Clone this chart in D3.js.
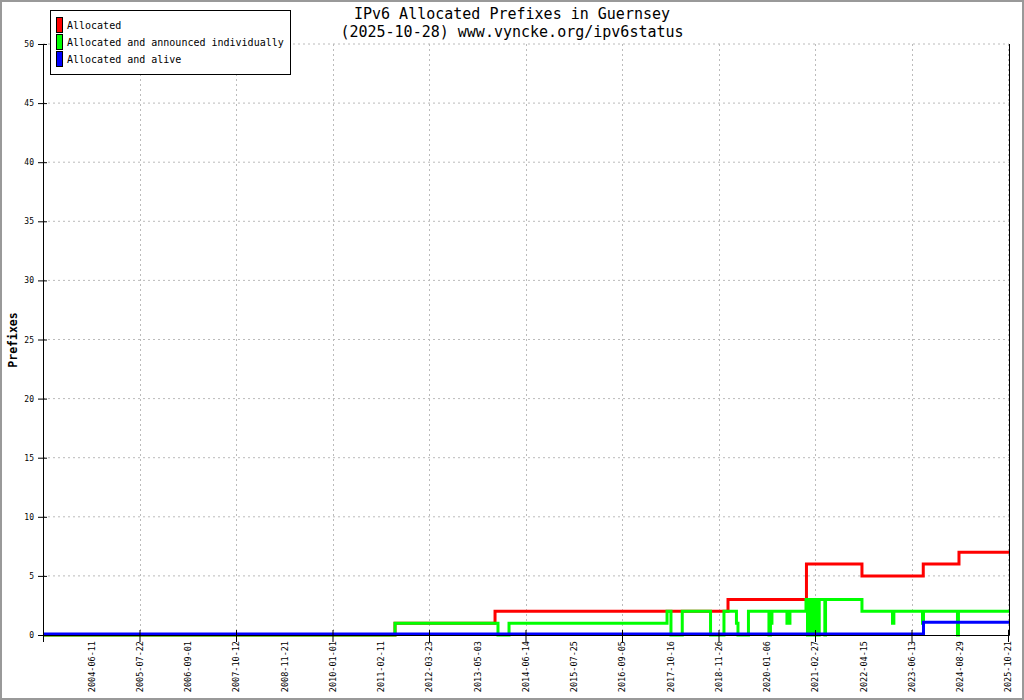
<!DOCTYPE html>
<html>
<head>
<meta charset="utf-8">
<script src="https://cdn.jsdelivr.net/npm/d3@7"></script>
<style>
body { margin: 0; background: #fff; }
text { font-family: "DejaVu Sans Mono", monospace; }
</style>
</head>
<body>
<svg id="chart" width="1024" height="700"></svg>
<script>
// chart values
var title_lines = ['IPv6 Allocated Prefixes in Guernsey', '(2025-10-28) www.vyncke.org/ipv6status'];
var y_label = 'Prefixes';
var y_ticks = [0, 5, 10, 15, 20, 25, 30, 35, 40, 45, 50];
var start_date = '2003-05-02';
var end_date = '2025-10-28';
var tick_labels = ['2004-06-11', '2005-07-22', '2006-09-01', '2007-10-12', '2008-11-21',
	'2010-01-01', '2011-02-11', '2012-03-23', '2013-05-03', '2014-06-14',
	'2015-07-25', '2016-09-05', '2017-10-16', '2018-11-26', '2020-01-06',
	'2021-02-27', '2022-04-15', '2023-06-13', '2024-08-29', '2025-10-21'];

var series_names = ['Allocated', 'Allocated and announced individually', 'Allocated and alive'];
var series_colors = ['#ff0000', '#00ff00', '#0000ff'];

// step changes: date where the count becomes the value
var allocated_dates = ['2003-05-02', '2011-06-11', '2013-09-30', '2019-02-14', '2020-12-15',
	'2022-04-04', '2023-09-29', '2024-08-22'];
var allocated_values = [0, 1, 2, 3, 6, 5, 6, 7];

var announced_dates = ['2003-05-02', '2011-06-11', '2013-10-25', '2014-01-26', '2017-09-19',
	'2017-10-22', '2018-01-25', '2018-09-20', '2019-01-11', '2019-04-26',
	'2019-05-09', '2019-08-05', '2020-01-25', '2020-02-07', '2020-02-20',
	'2020-06-29', '2020-07-25', '2020-12-11', '2020-12-24', '2021-01-03',
	'2021-01-15', '2021-01-28', '2021-02-23', '2021-03-01', '2021-03-26',
	'2021-04-04', '2021-05-22', '2021-05-28', '2022-04-04', '2022-12-28',
	'2023-01-09', '2023-09-22', '2023-10-01', '2024-08-08', '2024-08-17'];
var announced_values = [0, 1, 0, 1, 2,
	0, 2, 0, 2, 1,
	0, 2, 0, 1, 2,
	1, 2, 3, 0, 3,
	0, 3, 0, 3, 0,
	3, 0, 3, 2, 1,
	2, 1, 2, 0, 2];

var alive_dates = ['2003-05-02', '2023-10-01'];
var alive_values = [0, 1];

var parse = d3.timeParse('%Y-%m-%d');
var fmt = d3.timeFormat('%Y-%m-%d');

var margin = {left: 43, top: 44};
var width = 966, height = 591;

var svg = d3.select('#chart');

function make_series(dates, values)
{
	var pts = dates.map(function(d, i) { return {date: parse(d), value: values[i]}; });
	pts.push({date: parse(end_date), value: values[values.length - 1]});
	return pts;
}

function draw_chart()
{
	svg.append('rect')
		.attr('x', 1).attr('y', 1)
		.attr('width', 1022).attr('height', 698)
		.attr('fill', '#fff')
		.attr('stroke', '#999')
		.attr('stroke-width', 2);

	// labels are evenly spaced, so the time scale is piecewise
	var step = (width - 1) / tick_labels.length;
	var domain_dates = [parse(start_date)].concat(tick_labels.map(parse), [parse(end_date)]);
	var range_px = domain_dates.map(function(d, i) { return i * step; });
	range_px[range_px.length - 1] = width;

	var x = d3.scaleTime().domain(domain_dates).range(range_px);
	var y = d3.scaleLinear().domain([0, 50]).range([height, 0]);

	var g = svg.append('g').attr('transform', 'translate(' + margin.left + ',' + margin.top + ')');

	var major_dates = tick_labels.filter(function(d, i) { return i % 2 == 1; }).map(parse);

	// grid
	g.append('g')
		.selectAll('line')
		.data(y_ticks.filter(function(v) { return v > 0; }))
		.enter()
		.append('line')
			.attr('x1', 0).attr('x2', width)
			.attr('y1', function(d) { return y(d); })
			.attr('y2', function(d) { return y(d); })
			.attr('stroke', '#bbb')
			.attr('stroke-dasharray', '2,3');

	g.append('g')
		.selectAll('line')
		.data(major_dates)
		.enter()
		.append('line')
			.attr('x1', function(d) { return Math.round(x(d)) + 0.5; })
			.attr('x2', function(d) { return Math.round(x(d)) + 0.5; })
			.attr('y1', 0).attr('y2', height)
			.attr('stroke', '#bbb')
			.attr('stroke-dasharray', '2,3');

	// series
	var line = d3.line()
		.x(function(d) { return x(d.date); })
		.y(function(d) { return y(d.value); })
		.curve(d3.curveStepAfter);

	var all_series = [
		make_series(allocated_dates, allocated_values),
		make_series(announced_dates, announced_values),
		make_series(alive_dates, alive_values)
	];

	all_series.forEach(function(s, i) {
		g.append('path')
			.datum(s)
			.attr('d', line)
			.attr('fill', 'none')
			.attr('stroke', series_colors[i])
			.attr('stroke-width', 3)
			.attr('transform', i == 2 ? 'translate(0,-1)' : null);
	});

	// y axis
	var y_axis = g.append('g')
		.call(d3.axisLeft(y).tickValues(y_ticks).tickSize(5).tickPadding(4).tickSizeOuter(0));
	y_axis.selectAll('.tick line').attr('x1', 4);
	y_axis.selectAll('text').attr('font-family', '"DejaVu Sans Mono", monospace').attr('font-size', 8);
	y_axis.select('.domain').attr('stroke', '#000');

	// x axis with a label per step
	var x_axis = g.append('g')
		.attr('transform', 'translate(0,' + height + ')')
		.call(d3.axisBottom(x).tickValues(tick_labels.map(parse)).tickFormat(fmt).tickSize(0).tickSizeOuter(0));
	x_axis.selectAll('text')
		.attr('font-family', '"DejaVu Sans Mono", monospace')
		.attr('font-size', 8.5)
		.attr('transform', 'rotate(-90)')
		.attr('text-anchor', 'end')
		.attr('x', -6)
		.attr('y', 0)
		.attr('dy', '0.35em');

	var major_axis = g.append('g')
		.attr('transform', 'translate(0,' + height + ')')
		.call(d3.axisBottom(x).tickValues([parse(start_date)].concat(major_dates, [parse(tick_labels[tick_labels.length - 1])]))
			.tickFormat('').tickSize(7).tickSizeOuter(0));
	major_axis.selectAll('.tick line').attr('y1', -5);
	major_axis.select('.domain').attr('stroke', '#000');

	// right edge marker
	g.append('line')
		.attr('x1', Math.round(x(parse(end_date))) + 0.5)
		.attr('x2', Math.round(x(parse(end_date))) + 0.5)
		.attr('y1', 0).attr('y2', height)
		.attr('stroke', '#000');

	// y label
	svg.append('text')
		.attr('transform', 'translate(17,340) rotate(-90)')
		.attr('text-anchor', 'middle')
		.attr('font-size', 11.5)
		.attr('font-weight', 'bold')
		.text(y_label);

	// title
	svg.selectAll('.title')
		.data(title_lines)
		.enter()
		.append('text')
			.attr('class', 'title')
			.attr('x', 512)
			.attr('y', function(d, i) { return 19 + i * 18; })
			.attr('text-anchor', 'middle')
			.attr('font-size', 15)
			.text(function(d) { return d; });

	// legend
	var legend = svg.append('g').attr('transform', 'translate(50,10)');
	legend.append('rect')
		.attr('x', 0.5).attr('y', 0.5)
		.attr('width', 240).attr('height', 64)
		.attr('fill', '#fff')
		.attr('stroke', '#000');

	var items = legend.selectAll('.item')
		.data(series_names)
		.enter()
		.append('g')
			.attr('class', 'item')
			.attr('transform', function(d, i) { return 'translate(0,' + (7 + i * 17) + ')'; });

	items.append('rect')
		.attr('x', 6.5).attr('y', 0.5)
		.attr('width', 6).attr('height', 15)
		.attr('fill', function(d, i) { return series_colors[i]; })
		.attr('stroke', '#000');

	items.append('text')
		.attr('x', 17)
		.attr('y', 12)
		.attr('font-size', 10)
		.text(function(d) { return d; });
}

draw_chart();
</script>
</body>
</html>
